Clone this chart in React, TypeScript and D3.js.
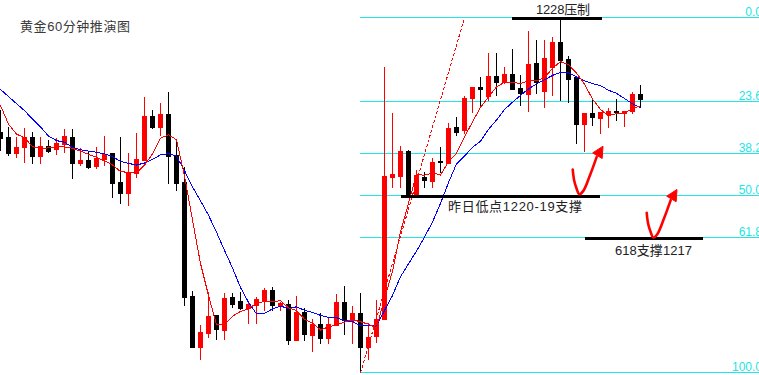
import React from "react";
import * as d3 from "d3";

const W = 759;
const H = 375;

// closes before the first visible candle (only used to warm up the moving averages)
const warmupCloses = [1225.04, 1225.4, 1225.72, 1225.63, 1225.67, 1226.08, 1224.41, 1223.37, 1223.82];

const opens = [
  1222.83, 1222.61, 1221.88, 1222.15, 1222.61, 1221.75, 1222.2, 1222.06, 1222.29, 1222.61,
  1221.43, 1221.57, 1221.3, 1221.61, 1221.88, 1220.58, 1220.08, 1220.98, 1221.57, 1223.55,
  1223.06, 1223.64, 1221.79, 1220.58, 1215.44, 1213.14, 1213.77, 1214.58, 1213.91, 1215.39,
  1215.21, 1214.9, 1215.03, 1215.21, 1215.71, 1214.99, 1215.08, 1213.46, 1214.72, 1213.68,
  1214.18, 1213.55, 1214.13, 1215.17, 1214.36, 1214.67, 1213.14, 1213.64, 1214.4, 1220.8,
  1220.85, 1221.97, 1220.04, 1220.8, 1220.62, 1221.52, 1221.43, 1223.06, 1222.92, 1224.36,
  1224.86, 1224.45, 1225.35, 1225.08, 1225.44, 1224.81, 1224.54, 1225.94, 1224.68, 1225.76,
  1226.89, 1226.12, 1225.31, 1223.19, 1223.69, 1223.46, 1223.64, 1223.78, 1223.69, 1223.78,
  1224.54,
];
const highs = [
  1223.82, 1223.06, 1222.61, 1223.01, 1222.83, 1222.61, 1222.47, 1222.56, 1222.97, 1222.97,
  1222.11, 1221.93, 1222.15, 1222.65, 1221.88, 1222.61, 1221.88, 1222.79, 1224.41, 1223.82,
  1224.14, 1224.63, 1222.38, 1221.25, 1215.67, 1214.13, 1215.62, 1214.58, 1215.58, 1215.58,
  1215.62, 1215.17, 1215.39, 1215.8, 1215.85, 1215.17, 1215.26, 1215.44, 1214.9, 1214.4,
  1214.67, 1214.49, 1215.53, 1215.89, 1214.99, 1215.58, 1214.22, 1215.26, 1225.76, 1223.69,
  1222.2, 1222.02, 1221.12, 1221.03, 1221.66, 1222.15, 1223.24, 1223.51, 1224.45, 1224.86,
  1225.31, 1226.39, 1226.39, 1225.76, 1226.57, 1225.4, 1227.38, 1226.98, 1226.98, 1227.11,
  1227.88, 1226.26, 1225.31, 1223.69, 1224.32, 1223.73, 1223.91, 1224.32, 1223.78, 1224.63,
  1224.95,
];
const lows = [
  1222.02, 1221.79, 1221.7, 1221.48, 1221.43, 1221.43, 1221.93, 1221.84, 1221.93, 1220.76,
  1221.34, 1221.21, 1221.21, 1221.34, 1219.9, 1219.63, 1219.54, 1220.8, 1221.57, 1223.01,
  1222.7, 1220.53, 1220.22, 1215.03, 1213.14, 1212.6, 1213.59, 1213.5, 1213.5, 1214.94,
  1214.85, 1214.22, 1214.22, 1214.81, 1214.81, 1214.81, 1213.28, 1213.46, 1213.46, 1212.96,
  1213.32, 1213.32, 1214.13, 1213.73, 1213.32, 1212.01, 1212.6, 1213.37, 1214.4, 1220.35,
  1220.35, 1219.9, 1219.9, 1220.35, 1220.35, 1221.03, 1221.43, 1222.7, 1222.79, 1223.73,
  1223.96, 1224.27, 1224.5, 1225.04, 1224.77, 1224.05, 1223.78, 1224.59, 1223.96, 1224.5,
  1224.27, 1224.18, 1222.34, 1221.97, 1223.15, 1222.79, 1223.06, 1223.37, 1223.1, 1223.69,
  1224.0,
];
const closes = [
  1222.56, 1221.88, 1222.15, 1222.61, 1221.75, 1222.2, 1221.97, 1222.34, 1222.65, 1221.43,
  1221.57, 1221.25, 1221.66, 1221.84, 1220.53, 1220.08, 1221.03, 1221.61, 1223.55, 1223.06,
  1223.64, 1221.75, 1220.53, 1215.39, 1213.14, 1213.82, 1214.54, 1213.95, 1215.35, 1215.08,
  1214.9, 1215.08, 1215.3, 1215.71, 1215.03, 1215.12, 1213.46, 1214.72, 1213.73, 1214.18,
  1213.55, 1214.18, 1215.17, 1214.36, 1214.67, 1213.14, 1213.59, 1214.4, 1220.85, 1220.94,
  1221.97, 1220.04, 1220.89, 1220.67, 1221.48, 1221.48, 1223.01, 1222.83, 1224.36, 1224.86,
  1224.77, 1225.35, 1225.08, 1225.44, 1224.77, 1224.59, 1225.9, 1225.08, 1226.17, 1226.89,
  1226.08, 1225.22, 1223.19, 1223.69, 1223.51, 1223.73, 1223.78, 1223.73, 1223.78, 1224.54,
  1224.32,
];

const fibLevels = [0, 23.6, 38.2, 50, 61.8, 100];
const fibLabels = ["0.0", "23.6", "38.2", "50.0", "61.8", "100.0"];
const fibHigh = 1228;
const fibLow = 1212;
const fibStartIndex = 45;
const fibEndIndex = 58;

const titleText = "黄金60分钟推演图";

const levelNames = ["1228压制", "昨日低点1220-19支撑", "618支撑1217"];
const levelPrices = [1228, 1220, 1218.1];
const levelFrom = [63.9, 50.05, 73.06];
const levelTo = [75.2, 74.9, 87.8];
const levelLabelIndex = [66.94, 55.94, 76.81];
const levelLabelPrice = [1228.17, 1219.27, 1217.33];

const arrowIndex = [72.35, 81.6];
const arrowPrice = [1220.05, 1218.1];

const RED = "#ff0000";
const CYAN = "#22e5e5";
const LATIN_CJK = '"Liberation Sans", "Noto Sans CJK SC", sans-serif';

// arrow glyph shape (pixels relative to its lowest point)
const arrowShape: [number, number][] = [
  [-6.6, -24.7],
  [-5.2, -14],
  [-3.0, -6.5],
  [0, 0],
  [4, -3.3],
  [10.7, -19],
  [17.4, -37.3],
];
const arrowTip: [number, number] = [23.7, -48];

export default function App() {
  const x = d3.scaleLinear().domain([0, 80]).range([0.5, 640.5]);
  const y = d3.scaleLinear().domain([fibLow, fibHigh]).range([372.8, 17.8]);

  const all = [...warmupCloses, ...closes];
  const off = warmupCloses.length;
  const ma = (p: number) =>
    closes.map((_, k) => d3.mean(all.slice(k + off - p + 1, k + off + 1)) as number);
  const ma5 = ma(5);
  const ma10 = ma(10);
  const line = d3
    .line<number>()
    .x((_, i) => x(i))
    .y((v) => y(v));

  const fibPrice = (lv: number) => fibHigh - (lv / 100) * (fibHigh - fibLow);
  const fibX0 = Math.floor(x(fibStartIndex));

  const labelWidths = [54, 134, 77];

  const arrowLine = d3.line<[number, number]>().curve(d3.curveCatmullRom.alpha(0.5));

  return (
    <svg
      width={W}
      height={H}
      style={{ position: "absolute", left: 0, top: 0, background: "#fff" }}
    >
      <rect x={0} y={0} width={W} height={H} fill="#ffffff" />

      {/* Fibonacci levels */}
      {fibLevels.map((lv, i) => {
        const yy = Math.floor(y(fibPrice(lv))) + 0.5;
        return (
          <g key={"fib" + i}>
            <line x1={fibX0} x2={W} y1={yy} y2={yy} stroke={CYAN} strokeWidth={1} shapeRendering="crispEdges" />
            <text
              x={762}
              y={yy - 2}
              textAnchor="end"
              fontSize={12}
              fontFamily='"Liberation Sans", Arial, sans-serif'
              fill={CYAN}
            >
              {fibLabels[i]}
            </text>
          </g>
        );
      })}

      {/* candles */}
      {closes.map((c, k) => {
        const o = opens[k];
        const up = c >= o;
        const col = up ? RED : "#000000";
        const cx = x(k);
        const yt = Math.floor(y(Math.max(o, c)));
        const yb = Math.floor(y(Math.min(o, c)));
        const yh = Math.floor(y(highs[k]));
        const yl = Math.floor(y(lows[k]));
        return (
          <g key={"c" + k} shapeRendering="crispEdges">
            <rect x={cx - 0.5} y={yh} width={1} height={Math.max(1, yl - yh + 1)} fill={col} />
            <rect x={cx - 2.5} y={yt} width={5} height={Math.max(1, yb - yt + 1)} fill={col} />
          </g>
        );
      })}

      {/* moving averages */}
      <path d={line(ma10) || ""} fill="none" stroke="#0000ff" strokeWidth={1} shapeRendering="crispEdges" />
      <path d={line(ma5) || ""} fill="none" stroke={RED} strokeWidth={1} shapeRendering="crispEdges" />

      {/* fib trend line */}
      <line
        x1={x(fibStartIndex)}
        y1={y(fibLow)}
        x2={x(fibEndIndex)}
        y2={y(fibHigh)}
        stroke={RED}
        strokeWidth={1}
        strokeDasharray="3,2"
        shapeRendering="crispEdges"
      />

      {/* level lines and labels */}
      {levelNames.map((name, i) => {
        const yy = Math.floor(y(levelPrices[i]));
        return (
          <g key={"lvl" + i}>
            <rect
              x={x(levelFrom[i])}
              y={yy}
              width={x(levelTo[i]) - x(levelFrom[i])}
              height={3}
              fill="#000"
              shapeRendering="crispEdges"
            />
            <text
              x={x(levelLabelIndex[i])}
              y={y(levelLabelPrice[i])}
              fontSize={13}
              fontFamily={LATIN_CJK}
              fill="#222"
              textLength={labelWidths[i]}
              lengthAdjust="spacing"
            >
              {name}
            </text>
          </g>
        );
      })}

      {/* red arrows */}
      {arrowIndex.map((ai, i) => {
        const ax = x(ai);
        const ay = y(arrowPrice[i]);
        const pts = arrowShape.map(([dx, dy]) => [ax + dx, ay + dy] as [number, number]);
        const tip: [number, number] = [ax + arrowTip[0], ay + arrowTip[1]];
        const last = pts[pts.length - 1];
        const dx = tip[0] - last[0];
        const dy = tip[1] - last[1];
        const len = Math.hypot(dx, dy);
        const ux = dx / len;
        const uy = dy / len;
        const bx = tip[0] - ux * 11;
        const by = tip[1] - uy * 11;
        const px = -uy;
        const py = ux;
        const head = `M${tip[0]},${tip[1]}L${bx + px * 5.5},${by + py * 5.5}L${bx - px * 5.5},${by - py * 5.5}Z`;
        return (
          <g key={"arr" + i}>
            <path d={arrowLine(pts) || ""} fill="none" stroke={RED} strokeWidth={2.6} strokeLinecap="round" />
            <path d={head} fill={RED} stroke={RED} strokeWidth={1} strokeLinejoin="round" />
          </g>
        );
      })}

      {/* title */}
      <text
        x={20}
        y={30.5}
        fontSize={13}
        fontFamily={LATIN_CJK}
        fill="#3a3a3a"
        textLength={110}
        lengthAdjust="spacing"
      >
        {titleText}
      </text>
    </svg>
  );
}
